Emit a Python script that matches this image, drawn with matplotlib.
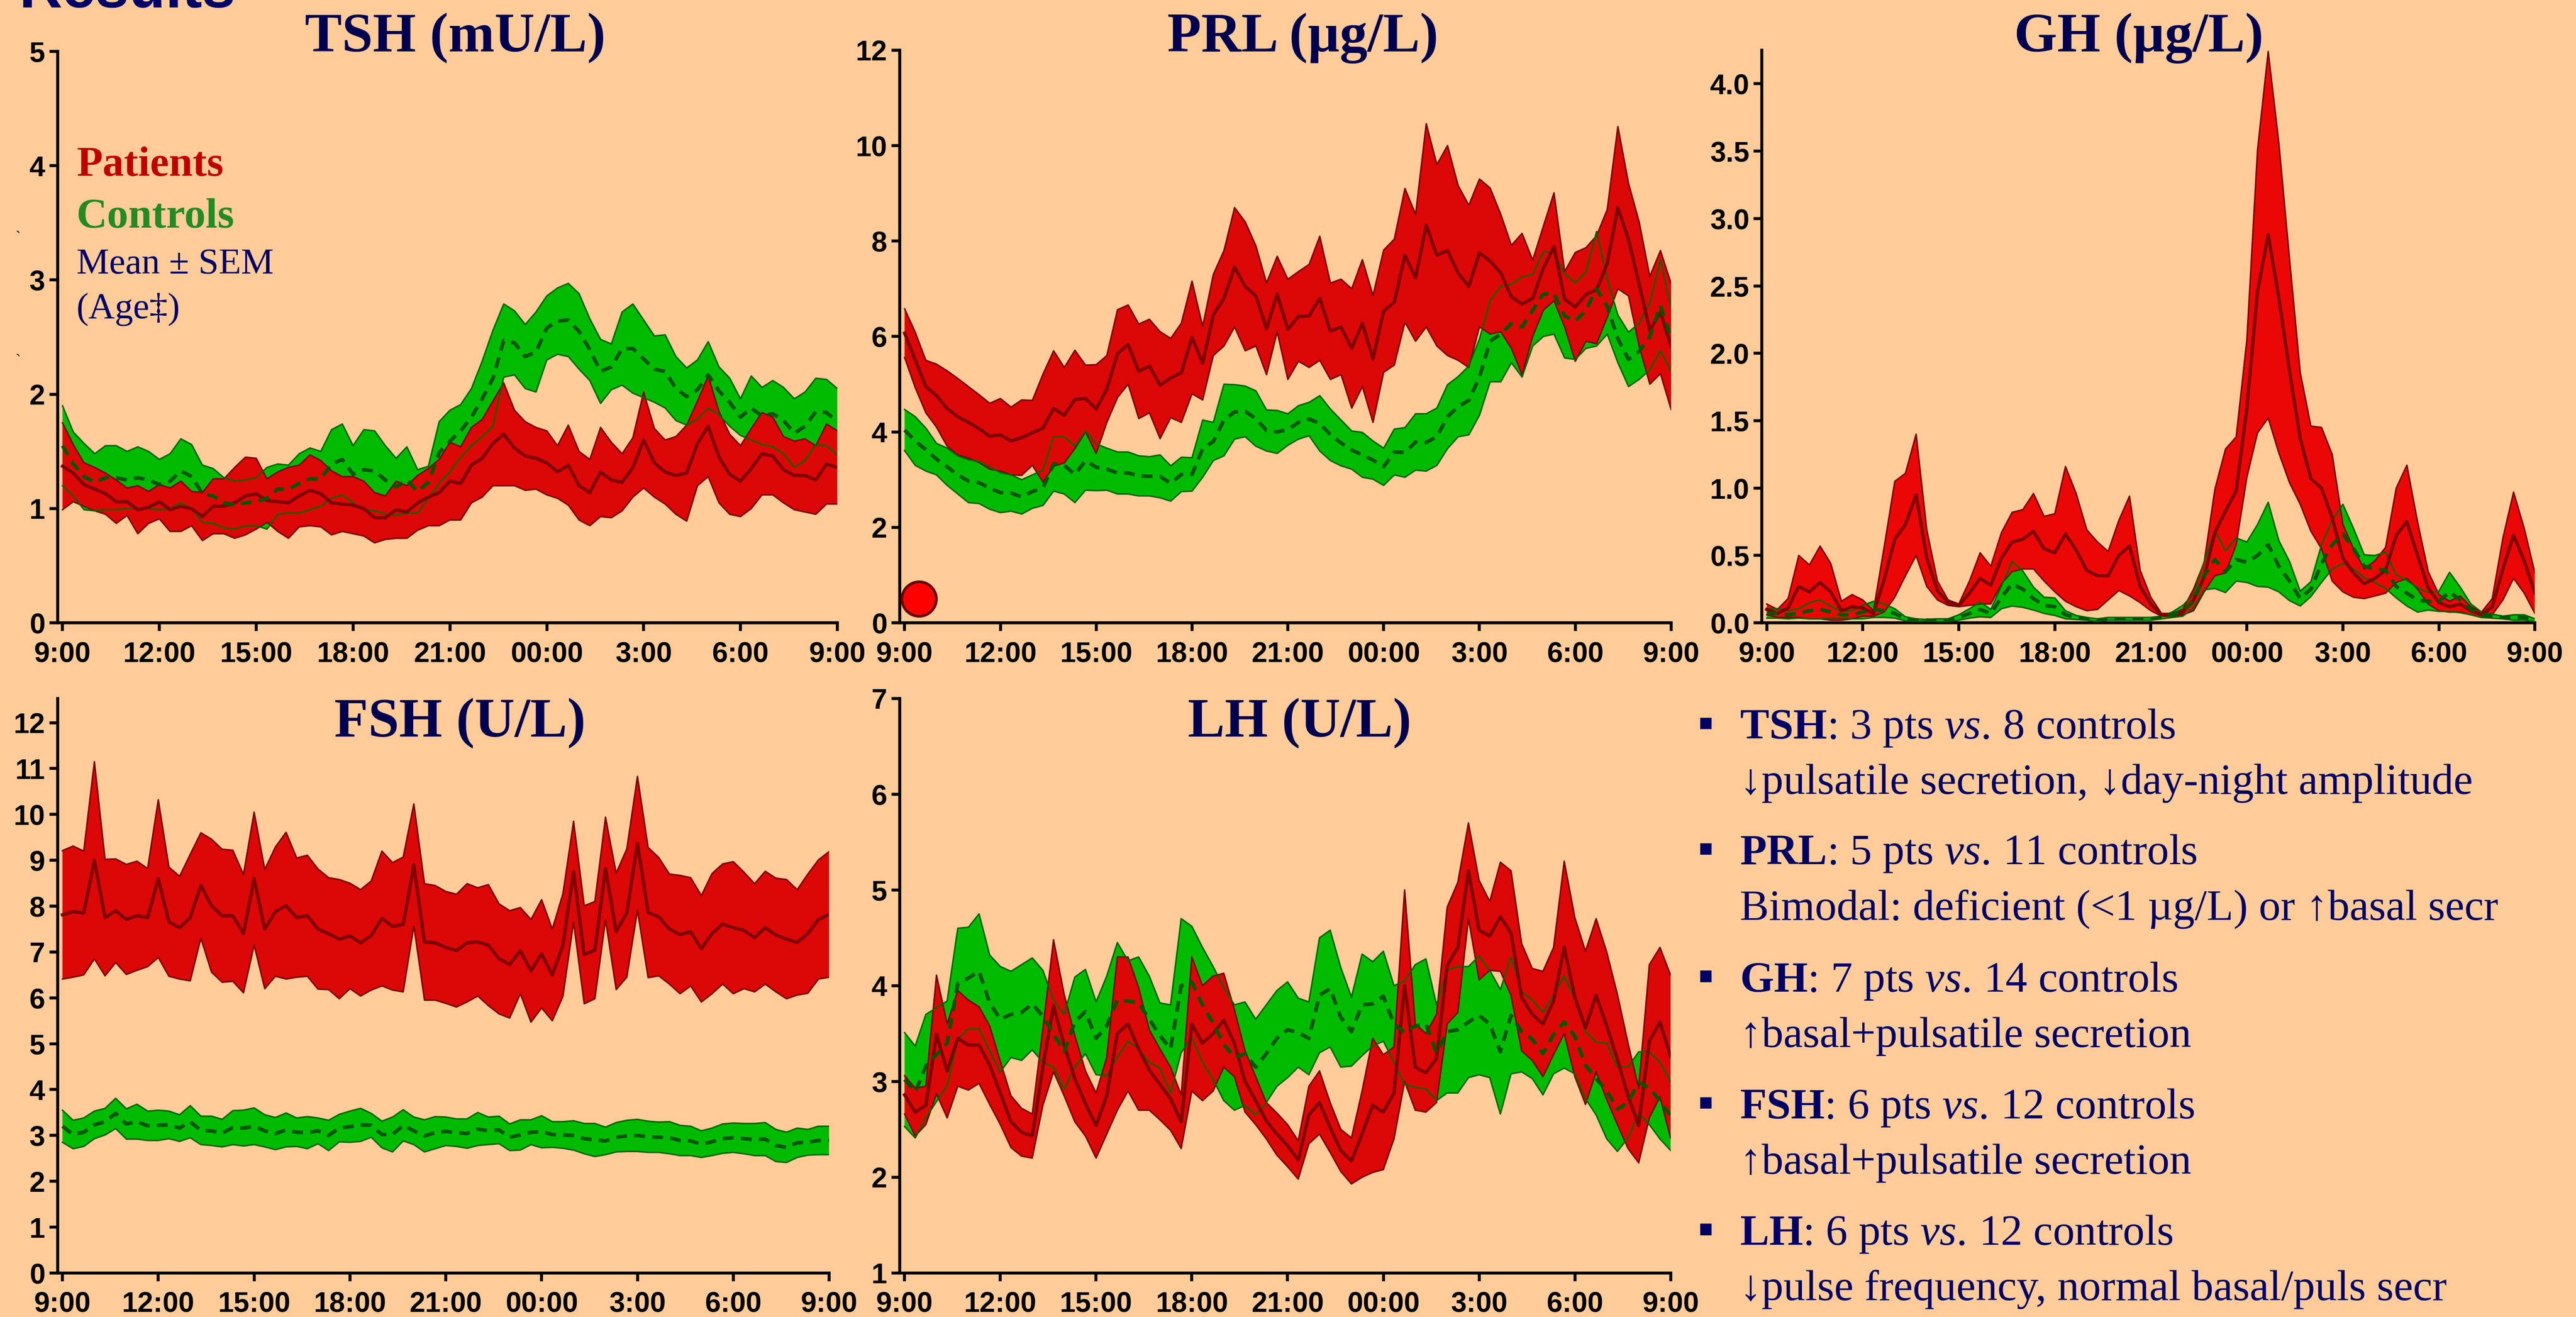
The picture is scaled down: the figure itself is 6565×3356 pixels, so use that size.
import numpy as np
import matplotlib
matplotlib.use("Agg")
import matplotlib.pyplot as plt
from matplotlib.patches import Rectangle

# slide is laid out in screen px of a 1568 x 802 view, scaled to 6565 x 3356 on save
W, H = 1568, 802
PT = 0.7536  # points per screen px

plt.rcParams["font.family"] = ["Liberation Serif", "DejaVu Serif"]
plt.rcParams["mathtext.fontset"] = "custom"
plt.rcParams["mathtext.rm"] = "Liberation Serif"
plt.rcParams["mathtext.it"] = "Liberation Serif:italic"
plt.rcParams["mathtext.bf"] = "Liberation Serif:bold"

BG = "#FFCC99"
NAVY = "#000066"
TITLE_NAVY = "#000050"
RED = "#DC0707"
RED_GH = "#EC0707"
RED_EDGE = "#7A0000"
RED_MEAN = "#800000"
GREEN = "#00BB00"
GREEN_EDGE = "#006400"
GREEN_MEAN = "#005500"
TICK_FONT = ["Liberation Sans Narrow", "Liberation Sans", "DejaVu Sans"]

# sampling every 20 min from 9:00 to 9:00 next day (hours after 9:00)
SAMPLE_MIN = 20
hours = np.arange(0, 24 * 60 + 1, SAMPLE_MIN) / 60.0

time_ticks = [0, 3, 6, 9, 12, 15, 18, 21, 24]
time_labels = ["9:00", "12:00", "15:00", "18:00", "21:00", "00:00", "3:00", "6:00", "9:00"]

# ---- TSH (mU/L) ----
tsh_pat_mean = [1.37, 1.31, 1.21, 1.17, 1.13, 1.06, 1.06, 0.99, 1.01, 1.06,
                0.99, 1.02, 1.00, 0.93, 1.02, 1.02, 1.05, 1.11, 1.13, 1.07,
                1.06, 1.05, 1.11, 1.16, 1.13, 1.05, 1.04, 1.03, 1.00, 0.92,
                0.92, 0.99, 0.97, 1.05, 1.10, 1.14, 1.24, 1.22, 1.38, 1.44,
                1.57, 1.65, 1.53, 1.46, 1.44, 1.40, 1.32, 1.38, 1.20, 1.14,
                1.32, 1.25, 1.23, 1.36, 1.60, 1.40, 1.32, 1.29, 1.31, 1.57,
                1.72, 1.45, 1.30, 1.24, 1.35, 1.48, 1.46, 1.34, 1.29, 1.29,
                1.25, 1.39, 1.36]
tsh_pat_sem = [0.38, 0.25, 0.19, 0.19, 0.18, 0.19, 0.12, 0.21, 0.14, 0.15,
               0.19, 0.22, 0.15, 0.21, 0.24, 0.24, 0.31, 0.34, 0.31, 0.19,
               0.26, 0.31, 0.27, 0.31, 0.29, 0.28, 0.24, 0.25, 0.24, 0.22,
               0.19, 0.25, 0.23, 0.24, 0.25, 0.29, 0.34, 0.32, 0.33, 0.34,
               0.37, 0.45, 0.33, 0.30, 0.27, 0.28, 0.23, 0.35, 0.30, 0.29,
               0.39, 0.33, 0.25, 0.26, 0.42, 0.30, 0.28, 0.34, 0.42, 0.37,
               0.44, 0.40, 0.35, 0.31, 0.35, 0.36, 0.34, 0.29, 0.30, 0.32,
               0.30, 0.35, 0.32]
tsh_ctl_mean = [1.55, 1.39, 1.28, 1.23, 1.27, 1.27, 1.25, 1.27, 1.25, 1.21,
                1.24, 1.33, 1.28, 1.13, 1.11, 1.05, 1.03, 1.05, 1.06, 1.09,
                1.17, 1.17, 1.22, 1.26, 1.26, 1.39, 1.43, 1.30, 1.34, 1.33,
                1.25, 1.19, 1.25, 1.15, 1.23, 1.49, 1.59, 1.68, 1.80, 1.96,
                2.14, 2.47, 2.45, 2.33, 2.37, 2.58, 2.64, 2.65, 2.55, 2.39,
                2.20, 2.24, 2.40, 2.40, 2.31, 2.22, 2.20, 2.05, 1.98, 2.04,
                2.17, 2.03, 1.93, 1.80, 1.88, 1.81, 1.83, 1.77, 1.66, 1.72,
                1.85, 1.84, 1.76]
tsh_ctl_sem = [0.35, 0.28, 0.29, 0.25, 0.28, 0.28, 0.25, 0.27, 0.25, 0.22,
               0.24, 0.28, 0.28, 0.25, 0.24, 0.22, 0.21, 0.20, 0.21, 0.27,
               0.22, 0.21, 0.26, 0.27, 0.24, 0.30, 0.31, 0.25, 0.35, 0.35,
               0.30, 0.25, 0.29, 0.19, 0.14, 0.27, 0.27, 0.23, 0.25, 0.33,
               0.42, 0.32, 0.28, 0.28, 0.35, 0.28, 0.29, 0.32, 0.33, 0.27,
               0.28, 0.20, 0.32, 0.39, 0.34, 0.29, 0.32, 0.28, 0.25, 0.26,
               0.29, 0.21, 0.21, 0.16, 0.28, 0.25, 0.29, 0.29, 0.30, 0.30,
               0.29, 0.29, 0.29]

# ---- PRL (ug/L) ----
prl_pat_mean = [6.07, 5.51, 4.95, 4.76, 4.49, 4.32, 4.20, 4.07, 3.91, 3.94,
                3.81, 3.88, 3.98, 4.08, 4.49, 4.35, 4.68, 4.70, 4.48, 4.90,
                5.64, 5.83, 5.27, 5.38, 4.98, 5.13, 5.24, 5.98, 5.44, 6.45,
                6.80, 7.45, 7.05, 6.85, 6.16, 6.89, 6.15, 6.42, 6.43, 6.80,
                6.11, 6.20, 5.75, 6.28, 5.53, 6.53, 6.72, 7.70, 7.23, 8.33,
                7.70, 7.80, 7.33, 7.05, 7.75, 7.58, 7.33, 6.83, 6.68, 6.80,
                7.43, 7.88, 6.78, 6.62, 6.88, 6.98, 7.53, 8.70, 8.03, 7.10,
                6.13, 6.51, 5.79]
prl_pat_sem = [0.51, 0.58, 0.55, 0.66, 0.79, 0.80, 0.75, 0.71, 0.69, 0.76,
               0.71, 0.79, 0.68, 1.13, 1.21, 1.00, 1.03, 0.70, 0.93, 0.70,
               0.92, 0.83, 0.99, 0.98, 1.12, 0.83, 1.04, 1.18, 0.77, 0.85,
               1.00, 1.25, 1.35, 1.05, 0.96, 0.79, 1.05, 0.94, 1.08, 1.30,
               1.01, 1.00, 1.25, 1.33, 1.33, 1.28, 1.32, 1.40, 1.33, 2.13,
               1.90, 2.20, 1.83, 1.70, 1.55, 1.53, 1.23, 1.08, 1.48, 0.80,
               0.88, 1.13, 0.58, 1.14, 0.98, 1.13, 1.13, 1.70, 1.18, 1.30,
               1.13, 1.29, 1.32]
prl_ctl_mean = [4.04, 3.81, 3.63, 3.43, 3.27, 3.10, 2.97, 2.94, 2.82, 2.73,
                2.72, 2.64, 2.75, 2.83, 3.33, 3.30, 3.11, 3.40, 3.26, 3.22,
                3.14, 3.14, 3.08, 3.07, 3.07, 2.92, 3.11, 3.11, 3.65, 3.80,
                4.25, 4.42, 4.43, 4.28, 4.03, 4.00, 4.05, 4.20, 4.27, 4.18,
                3.94, 3.77, 3.62, 3.52, 3.41, 3.27, 3.58, 3.57, 3.79, 3.78,
                3.90, 4.32, 4.53, 4.66, 5.15, 5.90, 6.05, 6.27, 6.20, 6.55,
                6.89, 6.90, 6.43, 6.32, 6.55, 7.00, 6.63, 5.95, 5.52, 5.69,
                6.00, 6.65, 5.95]
prl_ctl_sem = [0.43, 0.51, 0.45, 0.33, 0.39, 0.40, 0.45, 0.44, 0.44, 0.42,
               0.38, 0.36, 0.35, 0.37, 0.57, 0.60, 0.59, 0.62, 0.49, 0.44,
               0.44, 0.44, 0.42, 0.41, 0.45, 0.37, 0.36, 0.35, 0.60, 0.40,
               0.75, 0.57, 0.53, 0.58, 0.43, 0.45, 0.33, 0.35, 0.35, 0.58,
               0.54, 0.48, 0.40, 0.47, 0.40, 0.39, 0.48, 0.52, 0.59, 0.60,
               0.60, 0.67, 0.63, 0.72, 0.80, 0.85, 1.00, 0.82, 1.05, 0.75,
               0.89, 0.85, 0.88, 0.80, 0.80, 1.20, 0.58, 0.50, 0.57, 0.59,
               0.70, 0.95, 0.67]
# single deficient patient marked near the x axis
prl_flag_time = [0.45]
prl_flag_value = [0.5]

# ---- GH (ug/L) ----
gh_pat_mean = [0.10, 0.07, 0.11, 0.27, 0.23, 0.30, 0.23, 0.09, 0.12, 0.11,
               0.07, 0.32, 0.62, 0.73, 0.95, 0.48, 0.24, 0.15, 0.13, 0.22,
               0.33, 0.28, 0.48, 0.60, 0.62, 0.68, 0.55, 0.52, 0.66, 0.54,
               0.39, 0.35, 0.35, 0.50, 0.57, 0.27, 0.14, 0.06, 0.06, 0.08,
               0.17, 0.34, 0.67, 0.83, 0.98, 1.59, 2.46, 2.88, 2.41, 1.87,
               1.37, 1.07, 1.00, 0.78, 0.48, 0.37, 0.29, 0.33, 0.39, 0.65,
               0.75, 0.50, 0.26, 0.15, 0.12, 0.14, 0.09, 0.06, 0.12, 0.40,
               0.65, 0.46, 0.22]
gh_pat_sem = [0.04, 0.03, 0.07, 0.23, 0.20, 0.27, 0.21, 0.07, 0.09, 0.06,
              0.02, 0.24, 0.43, 0.38, 0.45, 0.21, 0.07, 0.02, 0.01, 0.09,
              0.19, 0.14, 0.19, 0.22, 0.22, 0.28, 0.24, 0.29, 0.50, 0.42,
              0.30, 0.25, 0.18, 0.26, 0.37, 0.12, 0.05, 0.01, 0.01, 0.02,
              0.08, 0.11, 0.32, 0.46, 0.40, 0.51, 1.05, 1.36, 1.15, 0.83,
              0.49, 0.39, 0.45, 0.47, 0.25, 0.18, 0.11, 0.13, 0.17, 0.35,
              0.42, 0.25, 0.12, 0.06, 0.04, 0.06, 0.03, 0.02, 0.06, 0.23,
              0.32, 0.24, 0.15]
gh_ctl_mean = [0.07, 0.07, 0.06, 0.07, 0.09, 0.10, 0.08, 0.06, 0.06, 0.08,
               0.10, 0.09, 0.07, 0.03, 0.02, 0.02, 0.02, 0.02, 0.04, 0.07,
               0.10, 0.07, 0.19, 0.29, 0.25, 0.18, 0.13, 0.12, 0.06, 0.04,
               0.03, 0.02, 0.03, 0.03, 0.03, 0.03, 0.03, 0.04, 0.06, 0.09,
               0.16, 0.35, 0.47, 0.38, 0.47, 0.45, 0.50, 0.58, 0.42, 0.31,
               0.18, 0.25, 0.44, 0.58, 0.66, 0.55, 0.42, 0.40, 0.39, 0.27,
               0.22, 0.17, 0.16, 0.16, 0.23, 0.17, 0.10, 0.06, 0.05, 0.04,
               0.04, 0.04, 0.02]
gh_ctl_sem = [0.035, 0.035, 0.03, 0.035, 0.06, 0.07, 0.045, 0.025, 0.03, 0.05,
              0.06, 0.05, 0.035, 0.015, 0.01, 0.005, 0.01, 0.01, 0.02, 0.035,
              0.055, 0.03, 0.085, 0.165, 0.135, 0.085, 0.06, 0.065, 0.03, 0.015,
              0.01, 0.01, 0.01, 0.01, 0.01, 0.01, 0.01, 0.01, 0.02, 0.04,
              0.05, 0.105, 0.215, 0.155, 0.16, 0.15, 0.23, 0.315, 0.19, 0.145,
              0.055, 0.055, 0.14, 0.18, 0.22, 0.15, 0.085, 0.10, 0.135, 0.085,
              0.095, 0.09, 0.065, 0.075, 0.145, 0.095, 0.04, 0.02, 0.015, 0.01,
              0.02, 0.02, 0.01]

# ---- FSH (U/L) ----
fsh_pat_mean = [7.81, 7.88, 7.85, 9.00, 7.75, 7.90, 7.71, 7.79, 7.75, 8.60,
                7.66, 7.53, 7.75, 8.45, 8.01, 7.79, 7.79, 7.40, 8.60, 7.50,
                7.88, 8.01, 7.75, 7.79, 7.50, 7.40, 7.28, 7.35, 7.20, 7.36,
                7.73, 7.56, 7.60, 8.90, 7.22, 7.20, 7.10, 7.03, 7.20, 7.22,
                7.15, 6.85, 6.73, 7.03, 6.59, 6.96, 6.50, 7.15, 8.75, 6.94,
                7.04, 8.82, 7.45, 7.85, 9.37, 7.86, 7.77, 7.50, 7.38, 7.44,
                7.07, 7.40, 7.61, 7.53, 7.47, 7.31, 7.53, 7.37, 7.28, 7.21,
                7.40, 7.71, 7.82]
fsh_pat_sem = [1.40, 1.43, 1.35, 2.15, 1.27, 1.13, 1.20, 1.19, 1.07, 1.72,
               1.19, 1.12, 1.38, 1.15, 1.45, 1.45, 1.43, 1.29, 1.45, 1.30,
               1.41, 1.60, 1.30, 1.32, 1.31, 1.22, 1.30, 1.15, 1.16, 1.19,
               1.47, 1.39, 1.47, 1.33, 1.27, 1.25, 1.22, 1.23, 1.29, 1.18,
               1.32, 1.20, 1.17, 0.94, 1.12, 1.18, 1.00, 1.12, 1.10, 1.07,
               1.06, 1.12, 1.27, 1.40, 1.46, 1.42, 1.29, 1.20, 1.29, 1.18,
               1.16, 1.31, 1.31, 1.44, 1.27, 1.18, 1.23, 1.24, 1.30, 1.15,
               1.30, 1.30, 1.37]
fsh_ctl_mean = [3.20, 3.02, 3.07, 3.23, 3.30, 3.48, 3.25, 3.30, 3.21, 3.22,
                3.23, 3.16, 3.30, 3.11, 3.10, 3.05, 3.17, 3.16, 3.20, 3.10,
                3.04, 3.12, 3.07, 3.06, 3.10, 3.00, 3.16, 3.19, 3.23, 3.22,
                3.02, 3.02, 3.22, 3.10, 2.99, 3.06, 3.09, 3.06, 3.04, 3.14,
                3.10, 3.12, 2.96, 3.01, 3.07, 3.08, 3.02, 3.01, 3.00, 2.93,
                2.90, 2.88, 2.96, 2.99, 3.00, 2.97, 2.96, 2.95, 2.89, 2.88,
                2.81, 2.86, 2.93, 2.95, 2.93, 2.91, 2.92, 2.78, 2.74, 2.84,
                2.85, 2.89, 2.89]
fsh_ctl_sem = [0.35, 0.31, 0.31, 0.30, 0.29, 0.33, 0.33, 0.38, 0.32, 0.33,
               0.30, 0.29, 0.35, 0.31, 0.32, 0.30, 0.37, 0.39, 0.40, 0.35,
               0.35, 0.37, 0.31, 0.35, 0.28, 0.33, 0.30, 0.34, 0.36, 0.26,
               0.29, 0.38, 0.34, 0.30, 0.35, 0.35, 0.31, 0.30, 0.32, 0.36,
               0.30, 0.30, 0.29, 0.33, 0.27, 0.35, 0.28, 0.29, 0.32, 0.33,
               0.36, 0.30, 0.32, 0.34, 0.35, 0.34, 0.33, 0.35, 0.33, 0.32,
               0.29, 0.30, 0.32, 0.32, 0.33, 0.35, 0.36, 0.35, 0.33, 0.32,
               0.28, 0.31, 0.31]

# ---- LH (U/L) ----
lh_pat_mean = [2.86, 2.68, 2.75, 3.49, 3.11, 3.45, 3.38, 3.38, 3.17, 2.88,
               2.58, 2.47, 2.43, 3.15, 3.79, 3.38, 3.03, 2.77, 2.54, 2.85,
               3.50, 3.60, 3.34, 3.12, 2.97, 2.82, 2.58, 3.60, 3.40, 3.50,
               3.64, 3.40, 3.00, 2.80, 2.59, 2.45, 2.33, 2.18, 2.65, 2.78,
               2.52, 2.28, 2.17, 2.45, 2.75, 2.68, 2.88, 4.00, 3.15, 3.09,
               3.24, 4.21, 4.40, 5.20, 4.58, 4.52, 4.72, 4.55, 3.88, 3.70,
               3.60, 3.84, 4.40, 3.88, 3.56, 3.90, 3.58, 3.23, 2.85, 2.54,
               3.42, 3.62, 3.26]
lh_pat_sem = [0.20, 0.25, 0.20, 0.62, 0.49, 0.50, 0.47, 0.40, 0.41, 0.33,
              0.27, 0.25, 0.23, 0.40, 0.69, 0.53, 0.45, 0.34, 0.34, 0.40,
              0.80, 0.70, 0.64, 0.42, 0.37, 0.33, 0.28, 0.70, 0.60, 0.60,
              0.49, 0.35, 0.32, 0.25, 0.19, 0.22, 0.22, 0.20, 0.30, 0.33,
              0.26, 0.22, 0.24, 0.45, 0.70, 0.60, 0.48, 1.00, 0.45, 0.41,
              0.46, 0.61, 0.68, 0.50, 0.52, 0.36, 0.57, 0.65, 0.56, 0.48,
              0.55, 0.56, 0.90, 0.83, 0.80, 0.80, 0.77, 0.68, 0.55, 0.39,
              0.80, 0.78, 0.85]
lh_ctl_mean = [3.02, 2.89, 3.16, 3.28, 3.40, 4.02, 4.08, 4.15, 3.82, 3.65,
               3.70, 3.72, 3.81, 3.68, 3.50, 3.31, 3.62, 3.73, 3.45, 3.58,
               3.85, 3.84, 3.82, 3.65, 3.48, 3.34, 4.00, 4.04, 3.80, 3.61,
               3.39, 3.25, 3.29, 3.15, 3.29, 3.45, 3.54, 3.51, 3.45, 3.90,
               3.97, 3.67, 3.52, 3.80, 3.81, 3.89, 3.60, 3.51, 3.58, 3.60,
               3.30, 3.52, 3.54, 3.62, 3.69, 3.60, 3.31, 3.69, 3.52, 3.44,
               3.29, 3.49, 3.62, 3.47, 3.17, 3.03, 2.90, 2.71, 2.78, 2.99,
               2.93, 2.80, 2.64]
lh_ctl_sem = [0.49, 0.48, 0.54, 0.49, 0.44, 0.58, 0.53, 0.60, 0.50, 0.55,
              0.45, 0.50, 0.48, 0.48, 0.35, 0.39, 0.47, 0.44, 0.38, 0.52,
              0.60, 0.42, 0.48, 0.45, 0.34, 0.46, 0.70, 0.58, 0.60, 0.59,
              0.59, 0.55, 0.54, 0.50, 0.51, 0.50, 0.50, 0.36, 0.38, 0.60,
              0.61, 0.52, 0.36, 0.53, 0.44, 0.47, 0.40, 0.54, 0.64, 0.68,
              0.50, 0.64, 0.66, 0.58, 0.62, 0.56, 0.65, 0.61, 0.42, 0.41,
              0.43, 0.41, 0.48, 0.39, 0.35, 0.38, 0.50, 0.44, 0.37, 0.32,
              0.38, 0.40, 0.36]

summary_heads = ["TSH", "PRL", "GH", "FSH", "LH"]
summary_counts = [(3, 8), (5, 11), (7, 14), (6, 12), (6, 12)]
summary_notes = ["\u2193pulsatile secretion, \u2193day-night amplitude",
                 "Bimodal: deficient (<1 \u00b5g/L) or \u2191basal secr",
                 "\u2191basal+pulsatile secretion",
                 "\u2191basal+pulsatile secretion",
                 "\u2193pulse frequency, normal basal/puls secr"]


def fx(x):
    return x / W


def fy(y):
    return 1 - y / H


def make_axes(fig, left, right, top, bottom):
    ax = fig.add_axes([fx(left), fy(bottom), (right - left) / W, (bottom - top) / H])
    ax.set_facecolor("none")
    for side in ("top", "right"):
        ax.spines[side].set_visible(False)
    for side in ("left", "bottom"):
        ax.spines[side].set_linewidth(1.8 * PT)
    ax.tick_params(width=1.8 * PT, length=5 * PT, direction="out")
    ax.tick_params(axis="x", pad=4.5)
    ax.tick_params(axis="y", pad=2)
    ax.set_xlim(-0.15, 24)
    ax.set_xticks(time_ticks)
    ax.set_xticklabels(time_labels, fontfamily=TICK_FONT, fontweight="bold", fontsize=13)
    return ax


def draw_bands(ax, pat_mean, pat_sem, ctl_mean, ctl_sem, pat_color=RED):
    pm, ps = np.array(pat_mean), np.array(pat_sem)
    cm, cs = np.array(ctl_mean), np.array(ctl_sem)
    ax.fill_between(hours, cm - cs, cm + cs, facecolor=GREEN, edgecolor="none", zorder=1)
    ax.fill_between(hours, pm - ps, pm + ps, facecolor=pat_color, edgecolor="none", zorder=2)
    for edge in (pm - ps, pm + ps):
        ax.plot(hours, edge, color=RED_EDGE, lw=0.9 * PT, zorder=3)
    for edge in (cm - cs, cm + cs):
        ax.plot(hours, edge, color=GREEN_EDGE, lw=0.9 * PT, zorder=3)
    ax.plot(hours, pm, color=RED_MEAN, lw=2.0 * PT, zorder=4)
    ax.plot(hours, cm, color=GREEN_MEAN, lw=2.2 * PT, ls=(0, (3, 2)), zorder=5)


def set_yaxis(ax, lo, hi, ticks, labels):
    ax.set_ylim(lo, hi)
    ax.set_yticks(ticks)
    ax.set_yticklabels(labels, fontfamily=TICK_FONT, fontweight="bold", fontsize=13)


fig = plt.figure(figsize=(6565 / 400, 3356 / 400), dpi=400, facecolor=BG)

# TSH
ax = make_axes(fig, 35.1, 509.7, 31.3, 379.3)
draw_bands(ax, tsh_pat_mean, tsh_pat_sem, tsh_ctl_mean, tsh_ctl_sem)
set_yaxis(ax, 0, 5, range(0, 6), [str(v) for v in range(0, 6)])

# PRL
ax = make_axes(fig, 547.7, 1017.2, 30.5, 379.3)
draw_bands(ax, prl_pat_mean, prl_pat_sem, prl_ctl_mean, prl_ctl_sem)
set_yaxis(ax, 0, 12, range(0, 13, 2), [str(v) for v in range(0, 13, 2)])
ax.plot(prl_flag_time, prl_flag_value, "o", ms=21 * PT, mfc="#FF0000", mec="#660000",
        mew=1.6 * PT, zorder=6, clip_on=False)

# GH
ax = make_axes(fig, 1072.5, 1543, 30.5, 379.3)
draw_bands(ax, gh_pat_mean, gh_pat_sem, gh_ctl_mean, gh_ctl_sem, pat_color=RED_GH)
gh_ticks = [v / 2 for v in range(0, 9)]
set_yaxis(ax, 0, 4.25, gh_ticks, ["%.1f" % v for v in gh_ticks])

# FSH
ax = make_axes(fig, 35.1, 504.7, 425.3, 775.2)
draw_bands(ax, fsh_pat_mean, fsh_pat_sem, fsh_ctl_mean, fsh_ctl_sem)
set_yaxis(ax, 0, 12.53, range(0, 13), [str(v) for v in range(0, 13)])

# LH
ax = make_axes(fig, 547.7, 1016.9, 425.3, 775.2)
draw_bands(ax, lh_pat_mean, lh_pat_sem, lh_ctl_mean, lh_ctl_sem)
set_yaxis(ax, 1, 7, range(1, 8), [str(v) for v in range(1, 8)])

# panel titles
title_size = 33.8 * PT
for text, x, y in [("TSH (mU/L)", 277, 31.3), ("PRL (\u00b5g/L)", 793, 31.3),
                   ("GH (\u00b5g/L)", 1302, 31.4), ("FSH (U/L)", 280, 448.5),
                   ("LH (U/L)", 791, 448.5)]:
    fig.text(fx(x), fy(y), text, ha="center", va="baseline", fontsize=title_size,
             fontweight="bold", color=TITLE_NAVY)

# slide heading, cut off at the top edge as on the slide
fig.text(fx(11.7), fy(4.5), "Results", fontsize=36.5 * PT, fontweight="bold",
         family=["Liberation Sans", "DejaVu Sans"], color=NAVY, va="baseline")

# legend text inside the TSH panel
fig.text(fx(46.5), fy(107), "Patients", fontsize=26 * PT, fontweight="bold",
         color="#C00000", va="baseline")
fig.text(fx(46.5), fy(138.5), "Controls", fontsize=26 * PT, fontweight="bold",
         color="#228B22", va="baseline")
fig.text(fx(46.5), fy(166.5), "Mean \u00b1 SEM", fontsize=22.3 * PT, color=NAVY,
         va="baseline")
fig.text(fx(46.5), fy(193.7), "(Age\u2021)", fontsize=22.3 * PT, color=NAVY,
         va="baseline")
for y in (145, 220):
    fig.text(fx(9.5), fy(y), "`", fontsize=7, color="black", va="center")

# summary bullets
first_base = [449.8, 526.3, 603.9, 681.0, 758.0]
for head, (npts, nctl), note, yb in zip(summary_heads, summary_counts, summary_notes, first_base):
    fig.patches.append(Rectangle((fx(1034.8), fy(yb - 5.8)), 7 / W, 7 / H,
                                 transform=fig.transFigure, facecolor=NAVY,
                                 edgecolor="none"))
    line1 = r"$\mathbf{%s}$: %d pts $\mathit{vs.}\,$%d controls" % (head, npts, nctl)
    fig.text(fx(1059), fy(yb), line1, fontsize=26.5 * PT, color=NAVY, va="baseline")
    fig.text(fx(1059), fy(yb + 33.7), note, fontsize=26.5 * PT, color=NAVY,
             va="baseline")

fig.savefig("out.png", dpi=400, facecolor=BG)
